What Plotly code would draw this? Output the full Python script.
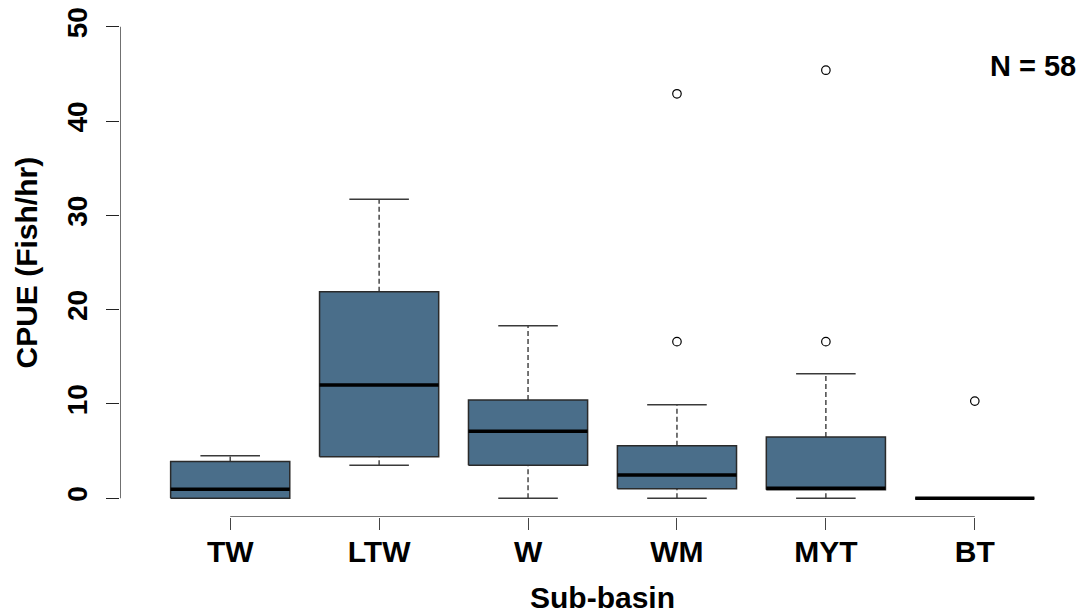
import plotly.graph_objects as go

# ---- data ----
categories = ["TW", "LTW", "W", "WM", "MYT", "BT"]
lower_whisker = [0.0, 3.5, 0.0, 0.0, 0.0, 0.0]
q1 = [0.0, 4.4, 3.5, 1.0, 0.9, 0.0]
median = [0.95, 12.0, 7.1, 2.45, 1.05, 0.0]
q3 = [3.9, 21.9, 10.4, 5.55, 6.5, 0.0]
upper_whisker = [4.5, 31.7, 18.3, 9.9, 13.2, 0.0]
outlier_group = ["WM", "WM", "MYT", "MYT", "BT"]
outlier_value = [16.6, 42.9, 16.6, 45.4, 10.3]
y_ticks = [0, 10, 20, 30, 40, 50]
n_label = "N = 58"

BOX_HALF = 0.4
CAP_HALF = 0.2
FILL = "#4A6E8A"
FONT = "Liberation Sans, Arial, sans-serif"

pos = {c: i + 1 for i, c in enumerate(categories)}
xs = [pos[c] for c in categories]
x_range = [0.26, len(categories) + 0.74]
y_range = [-2, 52]

# whiskers (dashed)
wx, wy = [], []
for x, lo, a, b, hi in zip(xs, lower_whisker, q1, q3, upper_whisker):
    wx += [x, x, None, x, x, None]
    wy += [b, hi, None, lo, a, None]
# caps
cx, cy = [], []
for x, lo, hi in zip(xs, lower_whisker, upper_whisker):
    cx += [x - CAP_HALF, x + CAP_HALF, None, x - CAP_HALF, x + CAP_HALF, None]
    cy += [hi, hi, None, lo, lo, None]
# boxes
bx, by = [], []
for x, a, b in zip(xs, q1, q3):
    bx += [x - BOX_HALF, x + BOX_HALF, x + BOX_HALF, x - BOX_HALF, x - BOX_HALF, None]
    by += [a, a, b, b, a, None]
# medians
mx, my = [], []
for x, m in zip(xs, median):
    mx += [x - BOX_HALF, x + BOX_HALF, None]
    my += [m, m, None]

fig = go.Figure()
fig.add_trace(go.Scatter(x=wx, y=wy, mode="lines", line=dict(color="#3a3a3a", width=1.4, dash="5px,3px"),
                         hoverinfo="skip", showlegend=False))
fig.add_trace(go.Scatter(x=cx, y=cy, mode="lines", line=dict(color="#3a3a3a", width=1.5),
                         hoverinfo="skip", showlegend=False))
fig.add_trace(go.Scatter(x=bx, y=by, mode="lines", fill="toself", fillcolor=FILL,
                         line=dict(color="#2a2a2a", width=1.5), hoverinfo="skip", showlegend=False))
fig.add_trace(go.Scatter(x=mx, y=my, mode="lines", line=dict(color="black", width=3.5),
                         hoverinfo="skip", showlegend=False, cliponaxis=False))
fig.add_trace(go.Scatter(x=[pos[g] for g in outlier_group], y=outlier_value, mode="markers",
                         marker=dict(symbol="circle-open", size=8.5, color="black", line=dict(width=1.2)),
                         showlegend=False))
# R-style axis lines spanning only the tick range
fig.add_trace(go.Scatter(x=[x_range[0], x_range[0]], y=[y_ticks[0], y_ticks[-1]], mode="lines",
                         line=dict(color="#222", width=1.3), hoverinfo="skip", showlegend=False,
                         cliponaxis=False))
fig.add_trace(go.Scatter(x=[xs[0], xs[-1]], y=[y_range[0], y_range[0]], mode="lines",
                         line=dict(color="#444", width=1.3), hoverinfo="skip", showlegend=False,
                         cliponaxis=False))

fig.update_layout(
    width=1077, height=608,
    margin=dict(l=112, r=0, t=0, b=99),
    plot_bgcolor="white", paper_bgcolor="white",
    font=dict(family=FONT, color="black"),
    xaxis=dict(range=x_range, tickvals=xs, ticktext=categories, showgrid=False, zeroline=False,
               showline=False, ticks="outside", ticklen=12, tickwidth=1.3, tickcolor="#444",
               tickfont=dict(size=30, family=FONT, weight="bold", color="black"),
               ticklabelstandoff=-4, ticklabeloverflow="allow"),
    yaxis=dict(range=y_range, tickvals=y_ticks, showgrid=False, zeroline=False, showline=False,
               ticks="outside", ticklen=13, tickwidth=1.3, tickcolor="#222", tickangle=-90,
               tickfont=dict(size=28, family=FONT, weight="bold", color="black"),
               ticklabelstandoff=8, ticklabeloverflow="allow"),
    annotations=[
        dict(text="Sub-basin", xref="paper", yref="paper", x=0.5, y=0, xanchor="center", yanchor="middle",
             yshift=-80, showarrow=False, font=dict(size=30, family=FONT, weight="bold")),
        dict(text="CPUE (Fish/hr)", xref="paper", yref="paper", x=0, y=0.5, xanchor="center", yanchor="middle",
             xshift=-94, textangle=-90, showarrow=False, font=dict(size=30, family=FONT, weight="bold")),
        dict(text=n_label, xref="paper", yref="paper", x=1, y=0.886, xanchor="right", yanchor="middle",
             xshift=-7, showarrow=False, font=dict(size=29, family=FONT, weight="bold")),
    ],
)

fig.write_html("out.html")
